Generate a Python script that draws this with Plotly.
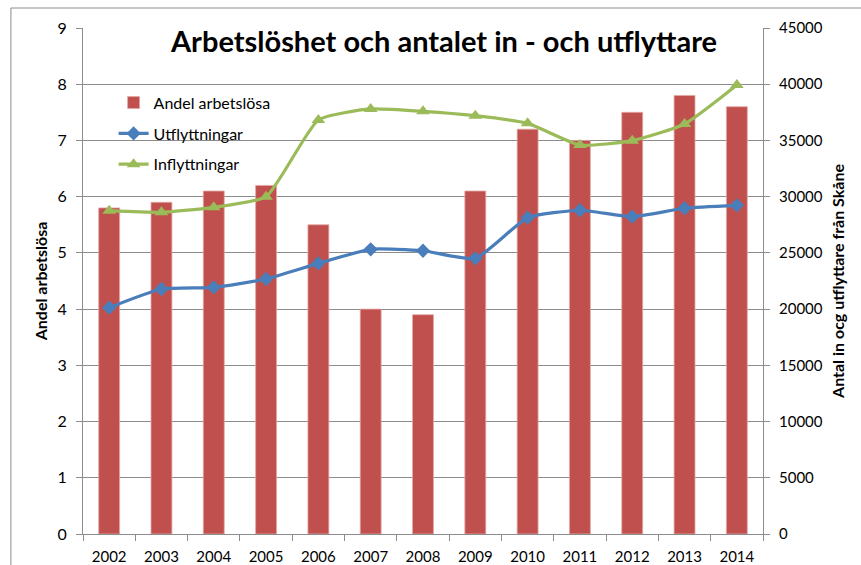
import plotly.graph_objects as go

years = ["2002", "2003", "2004", "2005", "2006", "2007", "2008",
         "2009", "2010", "2011", "2012", "2013", "2014"]
andel_arbetslosa = [5.8, 5.9, 6.1, 6.2, 5.5, 4.0, 3.9, 6.1, 7.2, 7.0, 7.5, 7.8, 7.6]
utflyttningar = [20130, 21790, 21940, 22680, 24070, 25320, 25190,
                 24520, 28130, 28790, 28220, 28970, 29230]
inflyttningar = [28750, 28610, 29050, 30000, 36820, 37800, 37590,
                 37200, 36520, 34590, 34980, 36460, 39930]

FONT = "Lato, 'Open Sans', sans-serif"
GRID = "#8c8c8c"

fig = go.Figure()
fig.add_trace(go.Bar(
    x=years, y=andel_arbetslosa, name="Andel arbetslösa",
    marker=dict(color="#C0504D", line=dict(color="#E3A8A6", width=0.8)),
    width=0.4, legendgroup="a", yaxis="y",
))
fig.add_trace(go.Scatter(
    x=years, y=utflyttningar, name="Utflyttningar", mode="lines+markers",
    line=dict(color="#4A7EBB", width=3.2, shape="spline", smoothing=0.5),
    marker=dict(symbol="diamond", size=11, color="#4A7EBB"),
    legendgroup="b", yaxis="y2",
))
fig.add_trace(go.Scatter(
    x=years, y=inflyttningar, name="Inflyttningar", mode="lines+markers",
    line=dict(color="#9BBB59", width=3.2, shape="spline", smoothing=0.5),
    marker=dict(symbol="triangle-up", size=12, color="#9BBB59"),
    legendgroup="c", yaxis="y2",
))

fig.update_layout(
    width=861, height=565,
    margin=dict(l=83, r=98, t=28, b=31),
    paper_bgcolor="white", plot_bgcolor="white",
    font=dict(family=FONT, size=15, color="black"),
    showlegend=True,
    legend=dict(
        x=0.045, y=0.886, xanchor="left", yanchor="top",
        traceorder="grouped", tracegroupgap=7,
        bgcolor="rgba(0,0,0,0)", font=dict(size=16, family=FONT),
        itemwidth=30,
    ),
    bargap=0.6,
    xaxis=dict(
        type="category", showgrid=False, automargin=False,
        showline=True, linecolor=GRID, linewidth=1,
        ticks="outside", tickson="boundaries", ticklen=6, tickcolor=GRID,
        tickfont=dict(size=15), range=[-0.5, 12.5], ticklabelstandoff=9,
    ),
    yaxis=dict(
        range=[0, 9], dtick=1, showgrid=True, gridcolor=GRID, gridwidth=1,
        showline=True, linecolor=GRID, linewidth=1, automargin=False,
        ticks="outside", ticklen=6, tickcolor=GRID, zeroline=False,
        tickfont=dict(size=16), ticklabelstandoff=6,
        title=dict(text="<b>Andel arbetslösa</b>", font=dict(size=16), standoff=5),
    ),
    yaxis2=dict(
        range=[0, 45000], dtick=5000, overlaying="y", side="right",
        showgrid=False, showline=True, linecolor=GRID, linewidth=1,
        automargin=False,
        ticks="outside", ticklen=6, tickcolor=GRID, zeroline=False,
        tickfont=dict(size=15), ticklabelstandoff=6, tickformat="d",
        title=dict(text="<b>Antal in ocg utflyttare från Skåne</b>",
                   font=dict(size=16), standoff=11),
    ),
    annotations=[dict(
        text="<b>Arbetslöshet och antalet in - och utflyttare</b>",
        x=0.53, y=1.0, xref="paper", yref="paper",
        xanchor="center", yanchor="top", yshift=7,
        showarrow=False, font=dict(size=29, family=FONT, color="black"),
    )],
    shapes=[dict(
        type="rect", xref="paper", yref="paper",
        x0=-0.106, x1=1.16, y0=-0.09, y1=1.0395,
        line=dict(color="#8c8c8c", width=1), layer="below",
    )],
)

fig.write_html("out.html")
